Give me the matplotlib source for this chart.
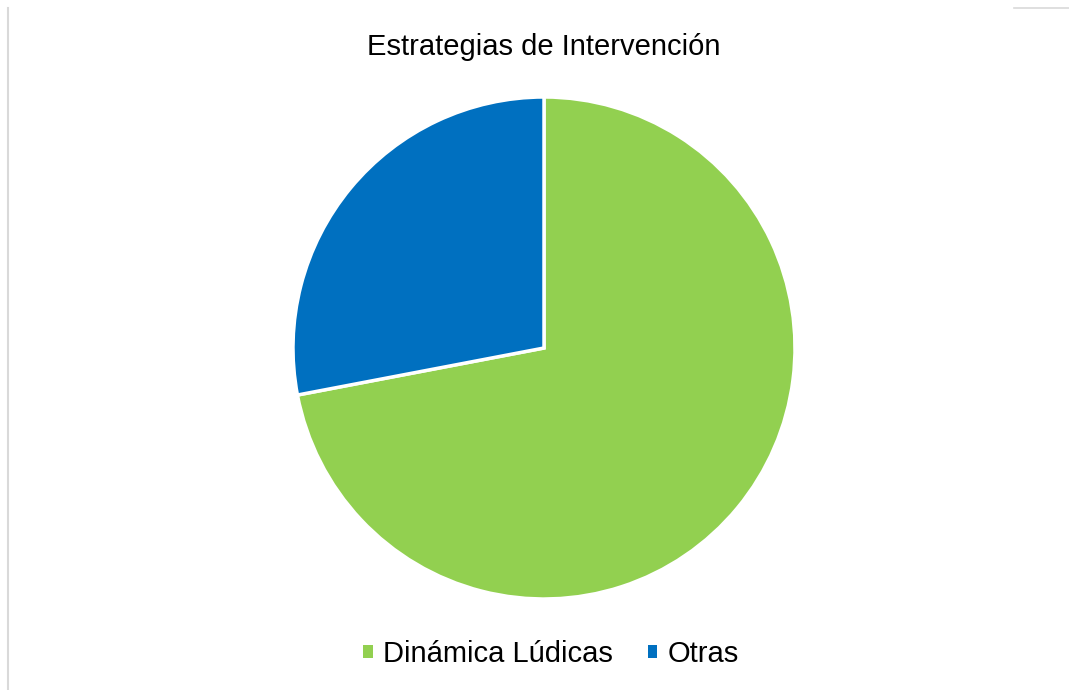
import matplotlib
matplotlib.use("Agg")
import matplotlib.pyplot as plt
from matplotlib.lines import Line2D
from matplotlib.patches import Patch

labels = ["Dinámica Lúdicas", "Otras"]
values = [72, 28]
colors = ["#92D050", "#0070C0"]
title = "Estrategias de Intervención"

W, H = 1069, 690
plt.rcParams["font.family"] = ["Liberation Sans", "DejaVu Sans"]
fig = plt.figure(figsize=(W / 100, H / 100), dpi=100)

# pie centre ~(544, 348) px, radius ~251 px
cx, cy, r = 544, 348, 251
ax = fig.add_axes([(cx - r) / W, (H - cy - r) / H, 2 * r / W, 2 * r / H])
ax.pie(values, colors=colors, startangle=90, counterclock=False, radius=1,
       wedgeprops=dict(edgecolor="white", linewidth=2.5))
ax.set_xlim(-1, 1)
ax.set_ylim(-1, 1)
ax.set_aspect("equal")
ax.axis("off")

fig.text(544 / W, 1 - 47 / H, title, ha="center", va="center", fontsize=21, color="#000000")

handles = [Patch(facecolor=c, edgecolor="none") for c in colors]
fig.legend(handles, labels, loc="center", bbox_to_anchor=(551 / W, 1 - 654 / H),
           ncol=2, frameon=False, fontsize=21, handlelength=0.32, handleheight=0.32,
           handletextpad=0.35, columnspacing=1.2)

# faint frame remnants
fig.add_artist(Line2D([8 / W, 8 / W], [0, 1 - 8 / H], color="#d9d9d9", lw=1.5))
fig.add_artist(Line2D([1014 / W, 1], [1 - 8 / H, 1 - 8 / H], color="#d9d9d9", lw=1.2))

fig.savefig("out.png", dpi=100, facecolor="white")
